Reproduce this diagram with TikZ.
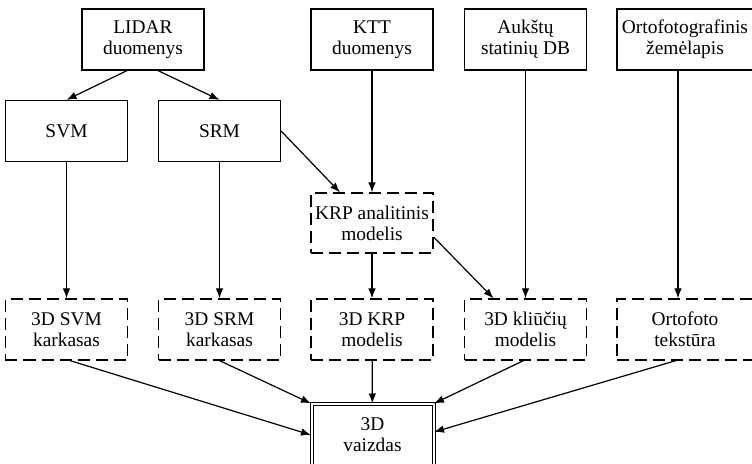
\documentclass[tikz,border=0pt]{standalone}
\usepackage{fontspec}
\setmainfont{Liberation Serif}
\usetikzlibrary{arrows.meta}

\begin{document}
\begin{tikzpicture}[x=0.5pt,y=-0.5pt,
  box/.style={draw,line width=0.6pt,align=center,minimum width=61pt,minimum height=30.5pt,inner sep=1pt,
    font=\fontsize{9.7}{10.6}\selectfont},
  dbox/.style={box,dash pattern=on 6pt off 3pt},
  result/.style={box,double,double distance=1pt,line width=0.5pt},
  >={Latex[length=5pt,width=3.8pt]}]
\useasboundingbox (0,0) rectangle (752,464);

% source data
\node[box] (lidar) at (143,39.5) {LIDAR\\duomenys};
\node[box] (ktt) at (372,39.5) {KTT\\duomenys};
\node[box] (aukstu) at (525.5,39.5) {Aukštų\\statinių DB};
\node[box,minimum width=68pt] (orto) at (685,39.5) {Ortofotografinis\\žemėlapis};

\node[box] (svm) at (66.5,131) {SVM};
\node[box] (srm) at (219.5,131) {SRM};
\node[dbox,minimum height=30pt] (krp) at (372,223) {KRP analitinis\\modelis};

% 3D models
\node[dbox] (svmk) at (66.5,329.5) {3D SVM\\karkasas};
\node[dbox] (srmk) at (219.5,329.5) {3D SRM\\karkasas};
\node[dbox] (krpm) at (372,329.5) {3D KRP\\modelis};
\node[dbox] (kliu) at (525.5,329.5) {3D kliūčių\\modelis};
\node[dbox,minimum width=68pt] (ortot) at (685,329.5) {Ortofoto\\tekstūra};

\node[result,minimum height=31pt] (vaizdas) at (372.5,435) {3D\\vaizdas};

\draw[->,line width=0.6pt] ([xshift=-8pt]lidar.south) -- (svm.north);
\draw[->,line width=0.6pt] ([xshift=7.5pt]lidar.south) -- (srm.north);
\draw[->,line width=0.6pt] (srm.east) -- ([xshift=-16pt]krp.north);
\draw[->,line width=0.6pt] (ktt) -- (krp);
\draw[->,line width=0.6pt] (svm) -- (svmk);
\draw[->,line width=0.6pt] (srm) -- (srmk);
\draw[->,line width=0.6pt] (krp) -- (krpm);
\draw[->,line width=0.6pt] ([yshift=-7pt]krp.east) -- ([xshift=-16pt]kliu.north);
\draw[->,line width=0.6pt] (aukstu) -- (kliu);
\draw[->,line width=0.6pt] ([xshift=-3.5pt]orto.south) -- ([xshift=-3.5pt]ortot.north);

\draw[->,line width=0.6pt] ([xshift=1.75pt]svmk.south) -- (vaizdas.west);
\draw[->,line width=0.6pt] (srmk.south) -- (vaizdas.north west);
\draw[->,line width=0.6pt] (krpm) -- (vaizdas);
\draw[->,line width=0.6pt] ([xshift=-1pt]kliu.south) -- (vaizdas.north east);
\draw[->,line width=0.6pt] ([xshift=-4.5pt]ortot.south) -- ([yshift=1.5pt]vaizdas.east);

\end{tikzpicture}
\end{document}
